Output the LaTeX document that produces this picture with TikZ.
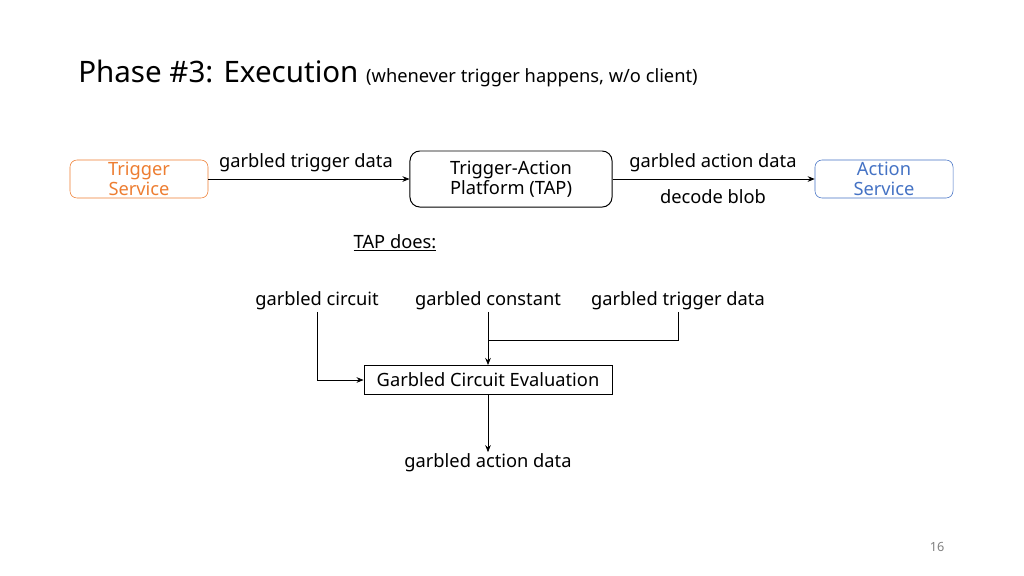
\documentclass[tikz,border=0pt]{standalone}
\usepackage{fontspec}
\setmainfont{Noto Sans}
\usetikzlibrary{positioning,arrows.meta}
\definecolor{trigorange}{RGB}{237,125,49}
\definecolor{actblue}{RGB}{68,114,196}
\tikzset{
  lbl/.style={font=\fontsize{13}{15}\selectfont, inner sep=1pt},
  svc/.style={draw, rounded corners=5pt, minimum width=3.45cm, minimum height=0.95cm, align=center, font=\fontsize{13}{14}\selectfont, inner sep=0pt},
  flow/.style={-{Stealth[length=5pt,width=4pt]}, line width=0.5pt}
}
\begin{document}
\begin{tikzpicture}[x=0.025cm,y=-0.025cm]
\useasboundingbox (0,0) rectangle (1024,575);
% title
\node[anchor=base west, inner sep=0] (title) at (78,82) {\fontsize{21}{24}\selectfont Phase \#3: Execution \fontsize{13}{15}\selectfont(whenever trigger happens, w/o client)};
% top row
\node[svc, draw=trigorange, text=trigorange] (trig) at (139,179) {Trigger\\Service};
\node[svc, rounded corners=7pt, minimum width=5.05cm, minimum height=1.4cm, line width=0.7pt] (tap) at (511,179) {Trigger-Action\\Platform (TAP)};
\node[svc, draw=actblue, text=actblue] (act) at (884,179) {Action\\Service};
\draw[flow] (trig.east) -- (tap.west);
\draw[flow] (tap.east) -- (act.west);
\node[lbl] (gtd) at (306,163) {garbled trigger data};
\node[lbl] (gad) at (713,163) {garbled action data};
\node[lbl] (blob) at (713,197) {decode blob};
% TAP does
\node[lbl] (does) at (395,243) {\underline{TAP does:}};
\node[lbl] (gc) at (317,301) {garbled circuit};
\node[lbl] (gk) at (488,301) {garbled constant};
\node[lbl] (gt) at (678,301) {garbled trigger data};
\node[draw, lbl, inner sep=0pt, minimum width=6.2cm, minimum height=0.73cm, line width=0.6pt] (gce) at (488,380) {Garbled Circuit Evaluation};
\node[lbl] (out) at (488,463) {garbled action data};
\coordinate (join) at (488,340);
\draw[flow] (gc.south) |- (gce.west);
\draw[flow] (gk.south) -- (gce.north);
\draw[line width=0.5pt] (gt.south) |- (join);
\draw[flow] (gce.south) -- (out.north);
\node[font=\fontsize{9}{10}\selectfont, text=gray] (page) at (937,547) {16};
\end{tikzpicture}
\end{document}
